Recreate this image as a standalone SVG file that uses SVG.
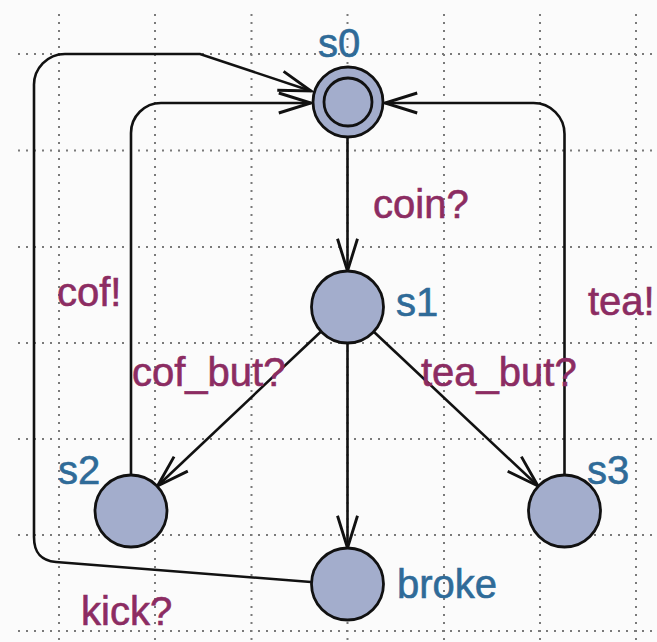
<svg xmlns="http://www.w3.org/2000/svg" width="657" height="642" viewBox="0 0 657 642">
  <defs>
    <style>
      .grid { stroke: #7a7a7a; stroke-width: 2; stroke-dasharray: 2 6; fill: none; }
      .edge { stroke: #111; stroke-width: 2.6; fill: none; }
      .loc { fill: #a3adcc; stroke: #111; stroke-width: 2.8; }
      .name { font-family: "Liberation Sans", Arial, sans-serif; font-size: 40px; fill: #2f6b98; stroke: #2f6b98; stroke-width: 0.6; }
      .label { font-family: "Liberation Sans", Arial, sans-serif; font-size: 40px; fill: #8c2c62; stroke: #8c2c62; stroke-width: 0.6; }
    </style>
    <marker id="arrow" markerUnits="userSpaceOnUse" markerWidth="40" markerHeight="30" viewBox="-32 -12 36 24" refX="0" refY="0" orient="auto">
      <path d="M-29,-9 L0,0 L-29,9" fill="none" stroke="#111" stroke-width="2.6"/>
    </marker>
  </defs>

  <rect width="657" height="642" fill="#fbfbfb"/>

  <!-- dotted grid -->
  <g id="grid">
    <path class="grid" d="M59,14 V642 M155,14 V642 M251.5,14 V642 M347.5,14 V642 M444,14 V642 M540,14 V642 M636,14 V642"/>
    <path class="grid" d="M18,54 H657 M18,150.5 H657 M18,247 H657 M18,343 H657 M18,439 H657 M18,535 H657 M18,631 H657"/>
  </g>

  <!-- transitions -->
  <g id="connectors">
    <path class="edge" d="M347.5,137 V271" marker-end="url(#arrow)"/>
    <path class="edge" d="M320.8,331.7 L157.5,486" marker-end="url(#arrow)"/>
    <path class="edge" d="M347.5,343 V548" marker-end="url(#arrow)"/>
    <path class="edge" d="M373.8,331.7 L538,486" marker-end="url(#arrow)"/>
    <path class="edge" d="M131,475 V133 A30,30 0 0 1 161,103 H311" marker-end="url(#arrow)"/>
    <path class="edge" d="M564.5,475 V134 A31,31 0 0 0 533.5,103 H385" marker-end="url(#arrow)"/>
    <path class="edge" d="M311,582 L56,562 C40,560.5 34,552 34,537 V86 A31,31 0 0 1 65,54 H200 L311,91" marker-end="url(#arrow)"/>
  </g>

  <!-- transition labels -->
  <g id="labels">
    <text class="label" x="373" y="218">coin?</text>
    <text class="label" x="57" y="306">cof!</text>
    <text class="label" x="132" y="386">cof_but?</text>
    <text class="label" x="421" y="386">tea_but?</text>
    <text class="label" x="588" y="315">tea!</text>
    <text class="label" x="81" y="625">kick?</text>
  </g>

  <!-- locations -->
  <g id="s0">
    <circle class="loc" cx="348" cy="102" r="35"/>
    <circle class="loc" cx="348" cy="102" r="24"/>
    <text class="name" x="318" y="57">s0</text>
  </g>
  <g id="s1">
    <circle class="loc" cx="347.5" cy="307" r="36"/>
    <text class="name" x="396" y="316">s1</text>
  </g>
  <g id="s2">
    <circle class="loc" cx="131" cy="511" r="36"/>
    <text class="name" x="58" y="484">s2</text>
  </g>
  <g id="s3">
    <circle class="loc" cx="564.5" cy="511" r="36"/>
    <text class="name" x="587" y="484">s3</text>
  </g>
  <g id="broke">
    <circle class="loc" cx="347.5" cy="584" r="36"/>
    <text class="name" x="397" y="598">broke</text>
  </g>
</svg>
